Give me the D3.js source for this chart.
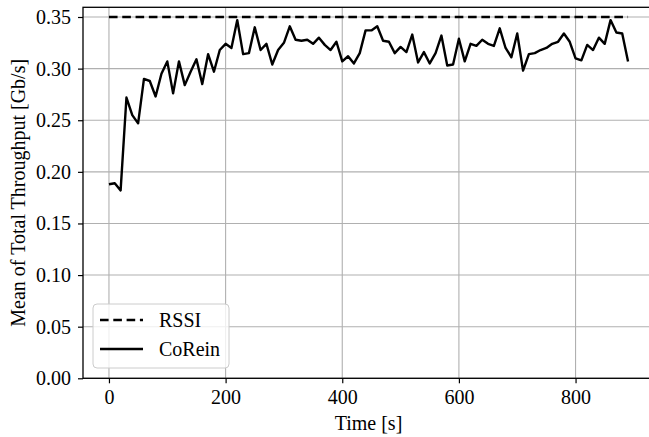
<!DOCTYPE html>
<html>
<head>
<meta charset="utf-8">
<script src="https://cdn.jsdelivr.net/npm/d3@7"></script>
<style>
  body { margin: 0; background: #fff; }
  svg { display: block; font-family: "Liberation Serif", "Times New Roman", serif; }
</style>
</head>
<body>
<div class="chart"></div>
<script>
const width = 649;
const height = 437;
const margin = {top: 7.3, left: 83, bottom: 437 - 378.3};
const plotWidth = 571;

// time steps (s) and mean total throughput (Gb/s)
const times = [0, 10, 20, 30, 40, 50, 60, 70, 80, 90,
  100, 110, 120, 130, 140, 150, 160, 170, 180, 190,
  200, 210, 220, 230, 240, 250, 260, 270, 280, 290,
  300, 310, 320, 330, 340, 350, 360, 370, 380, 390,
  400, 410, 420, 430, 440, 450, 460, 470, 480, 490,
  500, 510, 520, 530, 540, 550, 560, 570, 580, 590,
  600, 610, 620, 630, 640, 650, 660, 670, 680, 690,
  700, 710, 720, 730, 740, 750, 760, 770, 780, 790,
  800, 810, 820, 830, 840, 850, 860, 870, 880, 890];
const coreinValues = [0.188, 0.189, 0.182, 0.272, 0.255, 0.247, 0.290, 0.288, 0.273, 0.295,
  0.307, 0.276, 0.307, 0.284, 0.297, 0.309, 0.285, 0.314, 0.297, 0.318,
  0.324, 0.320, 0.347, 0.314, 0.315, 0.340, 0.318, 0.324, 0.304, 0.318,
  0.325, 0.341, 0.328, 0.327, 0.328, 0.324, 0.330, 0.323, 0.318, 0.326,
  0.307, 0.312, 0.305, 0.315, 0.337, 0.337, 0.341, 0.327, 0.326, 0.315,
  0.321, 0.316, 0.333, 0.306, 0.316, 0.305, 0.315, 0.332, 0.303, 0.304,
  0.329, 0.307, 0.324, 0.322, 0.328, 0.324, 0.322, 0.339, 0.320, 0.311,
  0.334, 0.298, 0.314, 0.315, 0.318, 0.320, 0.324, 0.326, 0.334, 0.326,
  0.310, 0.308, 0.323, 0.318, 0.330, 0.324, 0.347, 0.335, 0.334, 0.307];
const rssiValue = 0.350;

const xTicks = [0, 200, 400, 600, 800];
const yTicks = [0.00, 0.05, 0.10, 0.15, 0.20, 0.25, 0.30, 0.35];
const xAxisLabel = 'Time [s]';
const yAxisLabel = 'Mean of Total Throughput [Gb/s]';
const seriesNames = ['RSSI', 'CoRein'];

const x0 = margin.left, x1 = margin.left + plotWidth;
const y0 = height - margin.bottom, y1 = margin.top;
const lw = 2.4;
const dashes = '8.6,4.7';

const xScale = d3.scaleLinear().domain([-44.5, 934.5]).range([x0, x1]);
const yScale = d3.scaleLinear().domain([0, 0.3594]).range([y0, y1]);

const svg = d3.select('.chart').append('svg')
  .attr('width', width)
  .attr('height', height);

svg.append('rect').attr('width', width).attr('height', height).attr('fill', '#fff');

// grid
svg.append('g')
  .selectAll('line.gx').data(xTicks).enter().append('line')
  .attr('x1', d => xScale(d)).attr('x2', d => xScale(d))
  .attr('y1', y0).attr('y2', y1)
  .attr('stroke', '#b0b0b0').attr('stroke-width', 1.1);
svg.append('g')
  .selectAll('line.gy').data(yTicks).enter().append('line')
  .attr('x1', x0).attr('x2', x1)
  .attr('y1', d => yScale(d)).attr('y2', d => yScale(d))
  .attr('stroke', '#b0b0b0').attr('stroke-width', 1.1);

// axes
const xAxis = d3.axisBottom(xScale).tickValues(xTicks).tickSize(5).tickPadding(7).tickFormat(d3.format('d'));
const yAxis = d3.axisLeft(yScale).tickValues(yTicks).tickSize(5).tickPadding(7).tickFormat(d3.format('.2f'));

svg.append('g')
  .attr('transform', `translate(0, ${y0})`)
  .call(xAxis)
  .call(g => g.select('.domain').remove())
  .call(g => g.selectAll('line').attr('stroke-width', 1.2))
  .call(g => g.selectAll('text').attr('font-size', 20).attr('font-family', 'Liberation Serif').attr('fill', '#000'));

svg.append('g')
  .attr('transform', `translate(${x0}, 0)`)
  .call(yAxis)
  .call(g => g.select('.domain').remove())
  .call(g => g.selectAll('line').attr('stroke-width', 1.2))
  .call(g => g.selectAll('text').attr('font-size', 20).attr('font-family', 'Liberation Serif').attr('fill', '#000'));

// lines
const line = d3.line().x(d => xScale(d[0])).y(d => yScale(d[1]));

svg.append('path')
  .datum([[times[0], rssiValue], [times[times.length - 1], rssiValue]])
  .attr('d', line)
  .attr('fill', 'none')
  .attr('stroke', '#000')
  .attr('stroke-width', lw)
  .attr('stroke-dasharray', dashes);

svg.append('path')
  .datum(times.map((t, i) => [t, coreinValues[i]]))
  .attr('d', line)
  .attr('fill', 'none')
  .attr('stroke', '#000')
  .attr('stroke-width', lw)
  .attr('stroke-linejoin', 'round');

// frame
svg.append('rect')
  .attr('x', x0).attr('y', y1)
  .attr('width', x1 - x0).attr('height', y0 - y1)
  .attr('fill', 'none').attr('stroke', '#000').attr('stroke-width', 1.3);

// axis labels
svg.append('text')
  .attr('x', (x0 + x1) / 2).attr('y', 430)
  .attr('text-anchor', 'middle')
  .attr('font-size', 20)
  .text(xAxisLabel);

svg.append('text')
  .attr('transform', `translate(25, ${(y0 + y1) / 2}) rotate(-90)`)
  .attr('text-anchor', 'middle')
  .attr('font-size', 20)
  .text(yAxisLabel);

// legend
const legend = svg.append('g');
legend.append('rect')
  .attr('x', 93).attr('y', 304).attr('width', 136).attr('height', 64).attr('rx', 4)
  .attr('fill', '#fff').attr('fill-opacity', 0.8)
  .attr('stroke', '#cccccc').attr('stroke-width', 1);

const legendRows = legend.selectAll('g.row').data(seriesNames).enter().append('g')
  .attr('transform', (d, i) => `translate(0, ${320 + i * 29})`);
legendRows.append('line')
  .attr('x1', 100).attr('x2', 143).attr('y1', 0).attr('y2', 0)
  .attr('stroke', '#000').attr('stroke-width', lw)
  .attr('stroke-dasharray', (d, i) => i === 0 ? dashes : null);
legendRows.append('text')
  .attr('x', 159).attr('y', 7)
  .attr('font-size', 20)
  .text(d => d);
</script>
</body>
</html>
